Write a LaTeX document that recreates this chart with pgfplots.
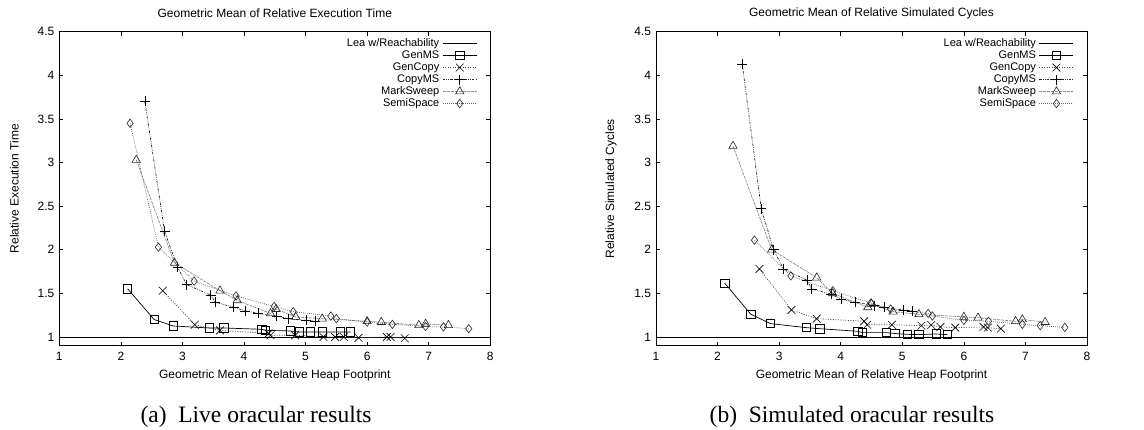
\documentclass[border=0pt]{standalone}
\usepackage{pgfplots}
\pgfplotsset{compat=1.18}
\usepackage{fontspec}
\setmainfont{Liberation Sans}
\newfontfamily\timesfont{Liberation Serif}
\newcommand\twelve{\fontsize{12}{12}\selectfont}
\newcommand\eleven{\fontsize{11}{11}\selectfont}

\pgfplotsset{
  gp/.style={
    scale only axis, width=431pt, height=314pt,
    xmin=1, xmax=8, ymin=0.9, ymax=4.5,
    xtick={1,2,3,4,5,6,7,8},
    ytick={1,1.5,2,2.5,3,3.5,4,4.5},
    tick align=inside, major tick length=4pt,
    tick style={black, line width=0.6pt},
    axis line style={black, line width=0.8pt},
    /pgf/number format/assume math mode=true,
    every tick label/.append style={font=\twelve},
    every x tick label/.append style={yshift=-3pt},
    every y tick label/.append style={xshift=-1.5pt},
    every axis title/.style={at={(axis description cs:0.5,1.0595)},anchor=center,font=\twelve},
    every axis x label/.style={at={(axis description cs:0.5,-0.0933)},anchor=center,font=\twelve},
    every axis y label/.style={at={(axis description cs:-0.1044,0.5)},rotate=90,anchor=center,font=\twelve},
    legend style={draw=none, fill=none, at={(axis description cs:0.97,0.982)}, anchor=north east,
      font=\eleven, row sep=0pt, column sep=2.5pt, inner sep=0pt,
      nodes={inner sep=0.6pt, text height=8.2pt, text depth=2.6pt}},
    legend cell align=right,
    legend plot pos=right,
    legend image code/.code={\draw[mark repeat=2,mark phase=2,#1] plot coordinates {(0pt,0pt) (17pt,0pt) (34pt,0pt)};},
  },
  lea/.style={black, line width=0.8pt, mark=none},
  genms/.style={black, line width=0.7pt, mark=square, mark size=4.2pt, mark options={solid, black}},
  gencopy/.style={black!75, line width=0.7pt, dash pattern=on 1pt off 1.5pt, mark=x, mark size=5.5pt, mark options={solid, black, line width=0.6pt}},
  copyms/.style={black!85, line width=0.7pt, dash pattern=on 2.5pt off 1.2pt on 0.6pt off 1.2pt on 0.6pt off 1.2pt, mark=+, mark size=5pt, mark options={solid, black, line width=0.6pt}},
  marksweep/.style={black!45, line width=0.7pt, dash pattern=on 3pt off 1pt, mark=triangle, mark size=4.8pt, mark options={solid, black!85, line width=0.6pt}},
  semispace/.style={black!60, line width=0.7pt, dash pattern=on 0.8pt off 1.2pt, mark=diamond, mark size=4.2pt, mark options={solid, black!85, line width=0.6pt}},
}

\begin{document}
\begin{tikzpicture}[x=1pt,y=1pt]
\path[use as bounding box] (0,0) rectangle (1144,430);

\begin{axis}[gp, at={(59.3pt,84.3pt)}, anchor=south west,
  title={Geometric Mean of Relative Execution Time},
  xlabel={Geometric Mean of Relative Heap Footprint},
  ylabel={Relative Execution Time}]
\addplot[lea] coordinates {(1,1) (8,1)};
\addlegendentry{Lea w/Reachability}
\addplot[genms] coordinates {(2.11,1.553) (2.54,1.20) (2.85,1.126) (3.44,1.103) (3.67,1.103) (4.29,1.088) (4.35,1.076) (4.75,1.069) (4.90,1.057) (5.08,1.057) (5.27,1.057) (5.56,1.057) (5.73,1.057)};
\addlegendentry{GenMS}
\addplot[gencopy] coordinates {(2.68,1.53) (3.20,1.14) (3.61,1.076) (4.40,1.04) (4.43,1.02) (4.83,1.02) (5.29,1.00) (5.48,1.00) (5.62,1.00) (5.86,0.99) (6.32,1.00) (6.38,1.00) (6.61,0.985)};
\addlegendentry{GenCopy}
\addplot[copyms] coordinates {(2.39,3.70) (2.71,2.21) (2.92,1.80) (3.07,1.60) (3.46,1.48) (3.53,1.40) (3.83,1.34) (4.02,1.30) (4.23,1.27) (4.53,1.24) (4.72,1.21) (5.01,1.19) (5.15,1.18)};
\addlegendentry{CopyMS}
\addplot[marksweep] coordinates {(2.25,3.03) (2.87,1.85) (3.61,1.53) (3.89,1.42) (4.43,1.27) (4.52,1.32) (4.84,1.23) (5.27,1.21) (6.00,1.18) (6.23,1.17) (6.84,1.135) (6.95,1.15) (7.32,1.135)};
\addlegendentry{MarkSweep}
\addplot[semispace] coordinates {(2.15,3.45) (2.61,2.03) (3.19,1.64) (3.87,1.47) (4.49,1.35) (4.80,1.29) (5.41,1.24) (5.50,1.21) (6.00,1.17) (6.41,1.145) (6.95,1.12) (7.24,1.115) (7.65,1.095)};
\addlegendentry{SemiSpace}
\end{axis}

\begin{axis}[gp, at={(656pt,84.3pt)}, anchor=south west,
  title={Geometric Mean of Relative Simulated Cycles},
  xlabel={Geometric Mean of Relative Heap Footprint},
  ylabel={Relative Simulated Cycles}]
\addplot[lea] coordinates {(1,1) (8,1)};
\addlegendentry{Lea w/Reachability}
\addplot[genms] coordinates {(2.115,1.618) (2.54,1.26) (2.86,1.153) (3.44,1.107) (3.66,1.095) (4.28,1.065) (4.35,1.05) (4.74,1.05) (4.88,1.04) (5.08,1.03) (5.27,1.027) (5.55,1.034) (5.73,1.027)};
\addlegendentry{GenMS}
\addplot[gencopy] coordinates {(2.68,1.78) (3.20,1.31) (3.61,1.21) (4.38,1.18) (4.43,1.14) (4.83,1.14) (5.31,1.13) (5.47,1.137) (5.62,1.115) (5.86,1.107) (6.32,1.115) (6.39,1.107) (6.60,1.095)};
\addlegendentry{GenCopy}
\addplot[copyms] coordinates {(2.40,4.13) (2.71,2.47) (2.91,2.00) (3.07,1.78) (3.45,1.65) (3.53,1.55) (3.85,1.49) (4.01,1.43) (4.23,1.40) (4.54,1.36) (4.70,1.34) (5.02,1.31) (5.16,1.30)};
\addlegendentry{CopyMS}
\addplot[marksweep] coordinates {(2.25,3.19) (2.88,2.00) (3.61,1.68) (3.87,1.50) (4.44,1.34) (4.50,1.38) (4.85,1.29) (5.27,1.26) (6.00,1.23) (6.23,1.22) (6.84,1.18) (6.95,1.20) (7.32,1.17)};
\addlegendentry{MarkSweep}
\addplot[semispace] coordinates {(2.60,2.11) (3.19,1.70) (3.87,1.53) (4.49,1.39) (4.81,1.32) (5.42,1.27) (5.49,1.24) (6.00,1.19) (6.40,1.18) (6.95,1.145) (7.24,1.13) (7.64,1.11)};
\addlegendentry{SemiSpace}
\end{axis}

\node[anchor=base, font=\timesfont\fontsize{23.5}{26}\selectfont] at (256,7.3) {(a)\enspace Live oracular results};
\node[anchor=base, font=\timesfont\fontsize{23.5}{26}\selectfont] at (852,7.3) {(b)\enspace Simulated oracular results};
\end{tikzpicture}
\end{document}
